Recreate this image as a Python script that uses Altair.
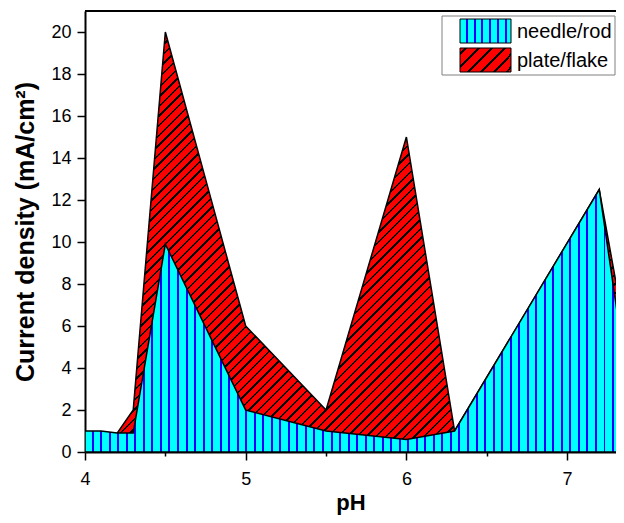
import altair as alt
import pandas as pd

# ---- data ----
needle_ph = [4.0, 4.1, 4.2, 4.3, 4.5, 5.0, 5.5, 6.0, 6.3, 7.2, 7.4]
needle_cd = [1.0, 1.0, 0.9, 0.9, 9.9, 2.0, 1.0, 0.6, 1.0, 12.5, 2.0]

plate_ph = [4.2, 4.3, 4.5, 5.0, 5.5, 6.0, 6.3, 7.2, 7.4]
plate_cd = [0.9, 2.0, 20.0, 6.0, 2.0, 15.0, 1.0, 12.5, 4.0]

x_ticks = [4, 4.5, 5, 5.5, 6, 6.5, 7]
y_ticks = list(range(0, 21))
series_names = ["needle/rod", "plate/flake"]

# ---- layout ----
W, H = 531, 441
PX_X = 160.7            # pixels per pH unit
X_MIN = 4.0
X_MAX = X_MIN + W / PX_X
Y_MAX = 21.0
PX_Y = H / Y_MAX

CYAN, BLUE, RED = "#00FFFF", "#0000FF", "#FF0000"


def vstripes(width_px, phase, period, lw, base, line):
    stops = [alt.GradientStop(offset=0, color=base)]
    pos = phase
    while pos + lw < width_px:
        a, b = pos / width_px, (pos + lw) / width_px
        stops += [alt.GradientStop(offset=a, color=base),
                  alt.GradientStop(offset=a, color=line),
                  alt.GradientStop(offset=b, color=line),
                  alt.GradientStop(offset=b, color=base)]
        pos += period
    stops.append(alt.GradientStop(offset=1, color=base))
    return alt.Gradient(gradient="linear", stops=stops, x1=0, x2=1, y1=0, y2=0)


def diag(w, h, period, lw, base, line, phase=0.0):
    tot = w + h
    s = tot / (w * w + h * h)
    stops = [alt.GradientStop(offset=0, color=base)]
    pos = phase
    while pos + lw < tot:
        a, b = max(pos, 0) / tot, (pos + lw) / tot
        stops += [alt.GradientStop(offset=a, color=base),
                  alt.GradientStop(offset=a, color=line),
                  alt.GradientStop(offset=b, color=line),
                  alt.GradientStop(offset=b, color=base)]
        pos += period
    stops.append(alt.GradientStop(offset=1, color=base))
    return alt.Gradient(gradient="linear", stops=stops, x1=0, y1=0, x2=s * w, y2=s * h)


cyan_w = (max(needle_ph) - min(needle_ph)) * PX_X
cyan_fill = vstripes(cyan_w, 6.7, 8.53, 2.0, CYAN, BLUE)
red_w = (max(plate_ph) - min(plate_ph)) * PX_X
red_h = max(plate_cd) * PX_Y
red_fill = diag(red_w, red_h, 9.6, 2.4, RED, "#000000")

needle = pd.DataFrame({"pH": needle_ph, "cd": needle_cd})
plate = pd.DataFrame({"pH": plate_ph, "cd": plate_cd})
one = pd.DataFrame({"k": [0]})

xscale = alt.Scale(domain=[X_MIN, X_MAX], nice=False, zero=False)
yscale = alt.Scale(domain=[0, Y_MAX], nice=False)

xaxis = alt.Axis(
    title="pH", values=x_ticks,
    labelExpr="datum.value % 1 === 0 ? format(datum.value, 'd') : ''",
    tickSize={"condition": {"test": "datum.value % 1 === 0", "value": 8}, "value": 4},
    labelPadding=10, titlePadding=4, labelFlush=False, labelOverlap=False,
    domainWidth=2, tickWidth=1.5, grid=False, titleFontSize=22,
)
yaxis = alt.Axis(
    title="Current density (mA/cm²)", values=y_ticks,
    labelExpr="datum.value % 2 === 0 ? format(datum.value, 'd') : ''",
    tickSize={"condition": {"test": "datum.value % 2 === 0", "value": 8}, "value": 4},
    labelPadding=6, titlePadding=12, labelOverlap=False,
    domainWidth=2, tickWidth=1.5, grid=False, titleFontSize=25,
)

red_area = alt.Chart(plate).mark_area(
    fill=red_fill, stroke="black", strokeWidth=1.5, clip=True
).encode(
    x=alt.X("pH:Q", scale=xscale, axis=xaxis),
    y=alt.Y("cd:Q", scale=yscale, axis=yaxis),
)

cyan_area = alt.Chart(needle).mark_area(
    fill=cyan_fill, stroke="black", strokeWidth=1.5, clip=True
).encode(
    x=alt.X("pH:Q", scale=xscale),
    y=alt.Y("cd:Q", scale=yscale),
)

top_rule = alt.Chart(one).mark_rule(color="black", strokeWidth=2).encode(
    y=alt.datum(Y_MAX)
)

# ---- legend (drawn manually to show the hatch patterns) ----
LX = 357
legend_box = alt.Chart(one).mark_rect(fill="white", stroke="#808080", strokeWidth=1).encode(
    x=alt.value(LX), x2=alt.value(LX + 173), y=alt.value(5), y2=alt.value(64)
)
sw_cyan = alt.Chart(one).mark_rect(
    fill=vstripes(51, 5.7, 7.8, 2.0, CYAN, BLUE), stroke="black", strokeWidth=1
).encode(x=alt.value(LX + 18), x2=alt.value(LX + 69), y=alt.value(8), y2=alt.value(32))
sw_red = alt.Chart(one).mark_rect(
    fill=diag(51, 24, 13, 3.0, RED, "#000000", phase=4), stroke="black", strokeWidth=1
).encode(x=alt.value(LX + 18), x2=alt.value(LX + 69), y=alt.value(37), y2=alt.value(61))
txt1 = alt.Chart(one).mark_text(
    text=series_names[0], align="left", baseline="alphabetic",
    font="Liberation Sans", fontSize=20, color="black"
).encode(x=alt.value(LX + 75), y=alt.value(27))
txt2 = alt.Chart(one).mark_text(
    text=series_names[1], align="left", baseline="alphabetic",
    font="Liberation Sans", fontSize=20, color="black"
).encode(x=alt.value(LX + 75), y=alt.value(56))

chart = alt.layer(
    red_area, cyan_area, top_rule, legend_box, sw_cyan, sw_red, txt1, txt2
).properties(
    width=W, height=H,
    autosize=alt.AutoSizeParams(type="none"),
    padding={"left": 77, "top": 3, "right": 0, "bottom": 63},
).configure_view(stroke=None).configure_axis(
    labelFont="Liberation Sans", labelFontSize=18, labelColor="black",
    titleFont="Liberation Sans", titleFontWeight="bold",
    titleColor="black", domainColor="black", tickColor="black",
)

chart.save("out.html", embed_options={"renderer": "svg", "actions": False})
